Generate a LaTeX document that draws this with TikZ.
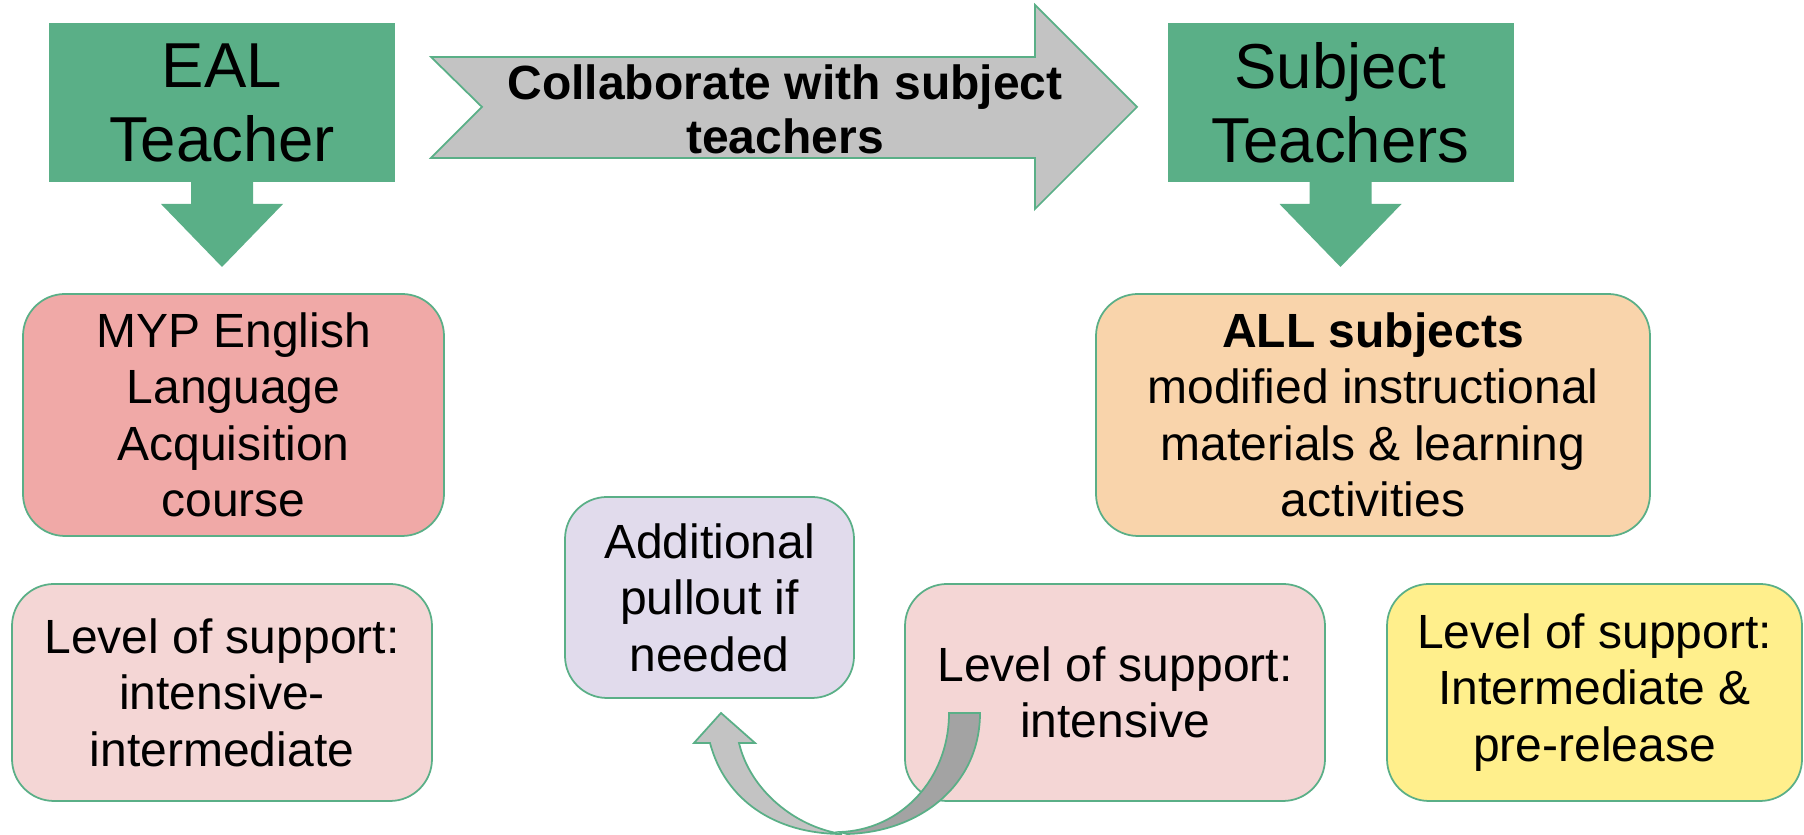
\documentclass[tikz,border=0pt]{standalone}
\usepackage{fontspec}
\setmainfont{Liberation Sans}
\usepackage{tikz}
\definecolor{SupGreen}{HTML}{5AAF87}
\definecolor{SupGrey}{HTML}{C3C3C3}
\definecolor{SupDarkGrey}{HTML}{A3A3A3}
\definecolor{SupRose}{HTML}{F0A9A7}
\definecolor{SupPink}{HTML}{F4D6D5}
\definecolor{SupPeach}{HTML}{F9D4AB}
\definecolor{SupLilac}{HTML}{E1DBEC}
\definecolor{SupYellow}{HTML}{FFEF8C}

\begin{document}
\begin{tikzpicture}[x=1cm,y=1cm,
  headbox/.style={fill=SupGreen,minimum width=3.46cm,minimum height=1.59cm,inner sep=0pt,outer sep=0pt,align=center,font=\fontsize{18.07}{21.05}\selectfont},
  infobox/.style={draw=SupGreen,line width=0.5pt,rounded corners=0.42cm,inner sep=0pt,outer sep=0pt,align=center,font=\fontsize{13.66}{16.07}\selectfont},
  arrowline/.style={draw=SupGreen,line width=0.5pt,line join=miter}]
\path[use as bounding box] (0,0) rectangle (18.04,8.35);
% teacher boxes with their down arrows
\node[headbox] (eal) at (2.22,7.325) {EAL\\Teacher};
\node[headbox] (subj) at (13.405,7.325) {Subject\\Teachers};
\fill[SupGreen] ([xshift=-0.31cm]eal.south) -- ++(0,-0.22) -- ++(-0.30,0) -- ++(0.61,-0.63) -- ++(0.61,0.63) -- ++(-0.30,0) -- ++(0,0.22) -- cycle;
\fill[SupGreen] ([xshift=-0.31cm]subj.south) -- ++(0,-0.22) -- ++(-0.30,0) -- ++(0.61,-0.63) -- ++(0.61,0.63) -- ++(-0.30,0) -- ++(0,0.22) -- cycle;
% notched arrow between them
\draw[arrowline,fill=SupGrey] (4.31,7.78) -- (10.35,7.78) -- (10.35,8.30) -- (11.37,7.28) -- (10.35,6.26) -- (10.35,6.77) -- (4.31,6.77) -- (4.82,7.28) -- cycle;
\node[align=center,inner sep=0pt,font=\fontsize{13.66}{15.4}\selectfont\bfseries] (collab) at (7.85,7.26) {Collaborate with subject\\teachers};
% programme boxes
\node[infobox,fill=SupRose,minimum width=4.21cm,minimum height=2.42cm] (myp) at (2.335,4.20) {MYP English\\Language\\Acquisition\\course};
\node[infobox,fill=SupPeach,minimum width=5.54cm,minimum height=2.42cm] (all) at (13.73,4.20) {\textbf{ALL subjects}\\modified instructional\\materials \& learning\\activities};
\node[infobox,fill=SupLilac,minimum width=2.89cm,minimum height=2.01cm] (pullout) at (7.095,2.375) {Additional\\pullout if\\needed};
% levels of support
\node[infobox,fill=SupPink,minimum width=4.20cm,minimum height=2.17cm] (lvlint) at (2.22,1.425) {Level of support:\\intensive-\\intermediate};
\node[infobox,fill=SupPink,minimum width=4.20cm,minimum height=2.17cm] (lvlmid) at (11.15,1.425) {Level of support:\\intensive};
\node[infobox,fill=SupYellow,minimum width=4.15cm,minimum height=2.17cm] (lvlpre) at (15.945,1.425) {Level of support:\\Intermediate \&\\pre-release};
% curved arrow back up to the pullout box
\draw[arrowline,fill=SupDarkGrey] (9.49,1.22) .. controls (9.49,0.55) and (9.00,0.05) .. (8.40,0.03) -- (8.47,0.01) .. controls (9.20,0.03) and (9.80,0.50) .. (9.80,1.22) -- cycle;
\draw[arrowline,fill=SupGrey] (7.10,0.92) .. controls (7.25,0.35) and (7.75,0.01) .. (8.42,0.01) .. controls (7.95,0.08) and (7.50,0.45) .. (7.39,0.92) -- (7.55,0.92) -- (7.21,1.22) -- (6.94,0.92) -- cycle;
\end{tikzpicture}
\end{document}
